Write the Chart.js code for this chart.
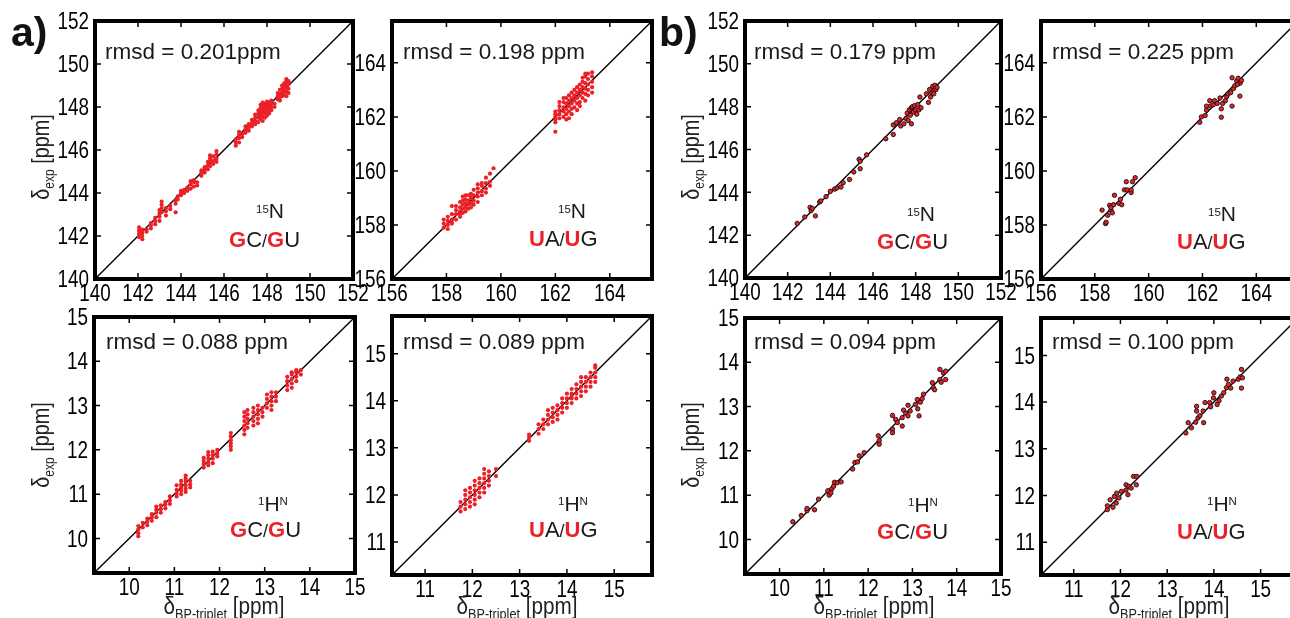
<!DOCTYPE html>
<html><head><meta charset="utf-8">
<script src="https://cdn.jsdelivr.net/npm/chart.js@4/dist/chart.umd.min.js"></script>
<style>
html,body{margin:0;padding:0;background:#fff;overflow:hidden;width:1290px;height:618px;}
#wrap{position:relative;width:1290px;height:618px;overflow:hidden;background:#fff;}
canvas{position:absolute;}
.t{position:absolute;white-space:nowrap;line-height:1;font-family:"Liberation Sans",Arial,sans-serif;color:#1a1a1a;}
.r{color:#ec2027;font-weight:bold;}
</style></head><body><div id="wrap"></div>
<script>
// ---------- axis ranges and tick labels ----------
const rangeN_GC = [140, 152];
const rangeN_UA = [156, 165.55];
const rangeH_GC = [9.22, 15];
const rangeH_UA = [10.3, 15.8];
const ticksN_GC = [140, 142, 144, 146, 148, 150, 152];
const ticksN_UA = [156, 158, 160, 162, 164];
const ticksH_GC = [10, 11, 12, 13, 14, 15];
const ticksH_UA = [11, 12, 13, 14, 15];

// ---------- panel a data: [x, [y values]] (vertical streaks) ----------
const aN_GC = [
 [142.05,[141.95,142.1,142.25,142.4]],[142.2,[141.85,142.0,142.15,142.3]],[142.4,[142.2,142.3]],
 [142.6,[142.35,142.5,142.6]],[142.8,[142.55,142.7,142.85]],[143.0,[142.7,142.9,143.05,143.2]],
 [143.1,[143.1,143.3,143.45,143.6]],[143.3,[142.95,143.15,143.3]],[143.5,[143.25,143.4]],
 [143.75,[143.1,143.5,143.65]],[143.85,[143.7,143.85]],[144.0,[143.9,144.0,144.1]],
 [144.15,[144.0,144.15]],[144.3,[144.1,144.25]],[144.45,[144.2,144.4,144.55]],
 [144.6,[144.3,144.5,144.6]],[144.75,[144.35,144.5]],[144.95,[144.8,144.95,145.05]],
 [145.1,[144.95,145.1,145.2]],[145.25,[145.1,145.3,145.45]],[145.35,[145.25,145.45,145.6,145.75]],
 [145.5,[145.35,145.5,145.7]],[145.65,[145.45,145.6,145.8,145.95]],
 [146.55,[146.2,146.35,146.5]],[146.7,[146.35,146.55,146.7,146.85]],[146.85,[146.6,146.75]],
 [147.0,[146.8,146.95,147.1]],[147.15,[146.9,147.05,147.2]],[147.3,[147.1,147.25,147.4]],
 [147.45,[147.2,147.35,147.5,147.65]],[147.6,[147.3,147.5,147.7,147.85]],
 [147.7,[147.45,147.6,147.8,147.95,148.1]],[147.8,[147.35,147.55,147.75,147.9,148.05,148.2]],
 [147.9,[147.5,147.7,147.85,148.0,148.15]],[148.0,[147.6,147.8,147.95,148.1,148.25]],
 [148.1,[147.7,147.9,148.05,148.2]],[148.2,[147.85,148.0,148.15,148.3]],[148.35,[148.0,148.15]],
 [148.5,[148.35,148.5,148.65]],[148.6,[148.3,148.45,148.6,148.8]],[148.7,[148.5,148.65,148.85,149.0]],
 [148.8,[148.55,148.75,148.95,149.1]],[148.9,[148.5,148.7,148.9,149.05,149.2,149.3]],
 [149.0,[148.65,148.85,149.05,149.2]]
];
const aN_UA = [
 [157.9,[157.9,158.05,158.2]],[158.05,[157.85,158.0,158.15,158.3]],[158.2,[158.05,158.1,158.2,158.4,158.7]],
 [158.35,[158.2,158.4,158.55,158.7]],[158.5,[158.3,158.4,158.5,158.65,158.85]],
 [158.6,[158.45,158.6,158.75,158.9,159.05]],[158.7,[158.5,158.65,158.8,158.95,159.1]],
 [158.8,[158.6,158.75,158.9,159.1]],[158.9,[158.65,158.8,159.0,159.15]],[159.0,[158.75,158.9,159.1,159.3]],
 [159.15,[158.85,159.05,159.2,159.35,159.5]],[159.3,[159.1,159.25,159.45,159.55]],
 [159.45,[159.2,159.35,159.55,159.75]],[159.6,[159.45,159.6,159.9]],[159.73,[160.1]],
 [162.0,[161.45,161.8,161.9,162.0,162.1,162.2]],[162.15,[161.95,162.1,162.25,162.4,162.55]],
 [162.3,[162.0,162.2,162.35,162.55,162.7]],[162.4,[161.9,162.1,162.3,162.5,162.7]],
 [162.5,[161.95,162.2,162.4,162.6,162.8]],[162.6,[162.1,162.3,162.5,162.7,162.9]],
 [162.7,[162.35,162.6,162.8,163.0]],[162.8,[162.25,162.5,162.7,162.9,163.1]],
 [162.9,[162.4,162.55,162.8,163.0,163.2]],[163.0,[162.7,162.9,163.1,163.3,163.45]],
 [163.1,[162.6,162.85,163.05,163.25,163.5,163.6]],[163.2,[162.8,163.0,163.2,163.4,163.6]],
 [163.35,[162.9,163.1,163.3,163.5,163.65]]
];
const aH_GC = [
 [10.2,[10.05,10.12,10.2,10.28]],[10.3,[10.25,10.35]],[10.4,[10.3,10.38,10.45]],
 [10.5,[10.4,10.48,10.55]],[10.6,[10.48,10.58,10.65,10.72]],[10.7,[10.58,10.66,10.75]],
 [10.8,[10.68,10.76,10.82]],[10.9,[10.78,10.86,10.95]],[11.05,[10.95,11.02,11.1,11.2]],
 [11.15,[11.0,11.08,11.15,11.22,11.3]],[11.25,[11.05,11.12,11.2,11.28,11.35,11.42]],
 [11.35,[11.15,11.22,11.3]],[11.65,[11.6,11.68,11.75,11.82]],[11.75,[11.65,11.72,11.8,11.88,11.95]],
 [11.85,[11.7,11.8,11.88,11.96]],[11.95,[11.85,11.92,12.0]],
 [12.25,[12.0,12.08,12.15,12.22,12.3,12.38]],
 [12.55,[12.35,12.45,12.55,12.65,12.75,12.85]],[12.62,[12.5,12.6,12.7,12.8,12.9]],
 [12.75,[12.55,12.65,12.75,12.85,12.95]],[12.85,[12.6,12.7,12.8,12.9,13.0]],[12.95,[12.75,12.85,12.95]],
 [13.05,[12.95,13.05,13.15,13.25]],[13.15,[12.9,13.0,13.1,13.2,13.3]],[13.25,[13.1,13.2,13.3]],
 [13.5,[13.35,13.45,13.55,13.65]],[13.6,[13.4,13.5,13.6,13.7,13.75]],[13.7,[13.55,13.65,13.75,13.8]],
 [13.8,[13.7,13.8]]
];
const aH_UA = [
 [11.75,[11.65,11.75,11.85]],[11.85,[11.7,11.8,11.9,12.0,12.1]],[11.95,[11.75,11.85,11.95,12.05,12.15]],
 [12.05,[11.8,11.9,12.0,12.1,12.2,12.3]],[12.15,[11.95,12.05,12.15,12.25,12.35]],
 [12.25,[12.05,12.15,12.25,12.35,12.45,12.55]],[12.35,[12.2,12.3,12.4,12.5]],[12.5,[12.4,12.55]],
 [13.2,[13.15,13.22,13.28]],
 [13.4,[13.3,13.4,13.5]],[13.5,[13.4,13.5,13.6]],[13.6,[13.5,13.6,13.7,13.8]],
 [13.7,[13.55,13.65,13.75,13.85]],[13.8,[13.6,13.7,13.8,13.9]],[13.9,[13.75,13.85,13.95,14.05]],
 [14.0,[13.85,13.95,14.05,14.15]],[14.1,[13.95,14.05,14.1,14.15,14.25]],[14.2,[14.05,14.15,14.25,14.35]],
 [14.3,[14.1,14.2,14.3,14.4,14.5]],[14.4,[14.2,14.3,14.4,14.5]],[14.5,[14.3,14.4,14.5,14.6]],
 [14.6,[14.4,14.5,14.6,14.7,14.75]]
];

// ---------- panel b data: [x, y] ----------
const bN_GC = [
 [142.45,142.55],[142.8,142.85],[143.05,143.3],[143.1,143.15],[143.15,143.25],[143.3,142.9],
 [143.5,143.55],[143.55,143.6],[143.8,143.8],[144.0,144.05],[144.2,144.15],[144.3,144.2],
 [144.5,144.25],[144.6,144.45],[144.9,144.6],[145.1,144.95],[145.35,145.55],[145.4,145.45],
 [145.4,145.1],[145.7,145.75],[146.6,146.5],[146.95,147.15],[146.95,146.7],[147.1,147.25],
 [147.25,147.4],[147.3,147.1],[147.45,147.2],[147.55,147.45],[147.6,147.7],[147.65,147.35],
 [147.7,147.85],[147.75,147.6],[147.8,147.95],[147.8,147.2],[147.85,148.0],[147.9,147.75],
 [147.95,148.05],[148.0,147.85],[148.05,147.65],[148.1,148.1],[148.15,147.85],[148.2,148.45],
 [148.25,147.95],[148.5,148.6],[148.6,148.2],[148.65,148.8],[148.7,148.45],[148.75,148.65],
 [148.8,148.95],[148.85,148.75],[148.9,149.0],[148.95,148.8],[148.85,148.6],[149.0,148.9]
];
const bN_UA = [
 [158.27,158.55],[158.4,158.05],[158.42,158.1],[158.48,158.36],[158.55,158.73],[158.6,158.55],
 [158.65,158.45],[158.73,159.1],[158.6,158.65],[158.7,158.75],[158.9,158.8],[158.95,158.95],
 [159.0,158.75],[159.1,159.3],[159.17,159.6],[159.2,159.3],[159.35,159.2],[159.35,159.3],
 [159.4,159.6],[159.5,159.75],
 [161.9,161.8],[161.96,162.0],[162.1,162.05],[162.15,162.25],[162.15,162.4],[162.27,162.6],
 [162.3,162.4],[162.4,162.45],[162.45,162.6],[162.55,162.5],[162.65,162.7],[162.7,162.3],
 [162.7,161.99],[162.75,162.5],[162.85,162.6],[162.9,162.75],[162.95,162.85],[163.1,162.4],
 [163.05,162.9],[163.15,163.05],[163.1,163.45],[163.2,163.15],[163.27,163.33],[163.33,163.43],
 [163.39,162.77],[163.4,163.25],[163.45,163.35],[163.3,163.2]
];
const bH_GC = [
 [10.3,10.4],[10.49,10.54],[10.62,10.65],[10.62,10.7],[10.79,10.67],[10.88,10.91],[11.09,11.1],
 [11.12,11.0],[11.18,11.14],[11.22,11.2],[11.24,11.29],[11.3,11.28],[11.39,11.3],[11.16,11.05],
 [11.65,11.59],[11.7,11.74],[11.76,11.75],[11.8,11.89],[11.91,11.96],
 [12.23,12.34],[12.25,12.23],[12.25,12.15],
 [12.55,12.49],[12.55,12.41],[12.55,12.8],[12.62,12.71],[12.66,12.64],[12.77,12.56],[12.77,12.75],
 [12.8,12.92],[12.85,12.85],[12.9,12.79],[12.9,13.03],[12.95,12.9],
 [13.07,13.05],[13.11,13.16],[13.15,12.79],[13.12,12.95],[13.18,13.1],[13.25,13.28],[13.22,13.18],
 [13.45,13.54],[13.47,13.43],[13.5,13.38],[13.62,13.84],[13.62,13.61],[13.65,13.55],[13.7,13.76],
 [13.75,13.8],[13.75,13.61]
];
const bH_UA = [
 [11.72,11.7],[11.72,11.78],[11.78,11.91],[11.84,11.75],[11.87,11.98],[11.91,11.84],[11.92,12.05],
 [11.97,11.95],[12.02,12.09],[12.12,12.23],[12.12,12.12],[12.16,12.02],[12.18,12.2],[12.23,12.16],
 [12.28,12.41],[12.34,12.23],[12.35,12.41],
 [13.4,13.34],[13.45,13.56],[13.52,13.45],[13.61,13.57],[13.63,13.91],[13.63,13.81],[13.66,13.66],
 [13.7,13.71],[13.77,13.81],[13.81,13.99],[13.78,13.56],[13.91,13.99],[13.93,13.9],[13.99,14.09],
 [14.0,14.2],[14.07,13.95],[14.11,14.03],[14.16,14.13],[14.21,14.2],[14.27,14.31],[14.28,14.49],
 [14.31,14.38],[14.36,14.3],[14.41,14.45],[14.52,14.49],[14.56,14.54],[14.59,14.7],[14.59,14.3],
 [14.61,14.52]
];

// ---------- labels ----------
const rmsdLabels = ["rmsd = 0.201ppm","rmsd = 0.198 ppm","rmsd = 0.088 ppm","rmsd = 0.089 ppm",
                    "rmsd = 0.179 ppm","rmsd = 0.225 ppm","rmsd = 0.094 ppm","rmsd = 0.100 ppm"];

// ---------- layout ----------
const RED = 'rgb(236,32,39)';
const PL = 50, PT = 14, PR = 26, PB = 32;
const panels = [
 {box:[95,21,353,279],  range:rangeN_GC, ticks:ticksN_GC, streaks:aN_GC, nuc:'N', pair:'GC', rm:[105,60], nl:[256,218], pl:[229,248]},
 {box:[392,21,652,279], range:rangeN_UA, ticks:ticksN_UA, streaks:aN_UA, nuc:'N', pair:'UA', rm:[403,60], nl:[558,218], pl:[529,247]},
 {box:[94,317,355,573], range:rangeH_GC, ticks:ticksH_GC, streaks:aH_GC, nuc:'H', pair:'GC', rm:[106,350], nl:[258,511], pl:[230,538]},
 {box:[392,316,652,575],range:rangeH_UA, ticks:ticksH_UA, streaks:aH_UA, nuc:'H', pair:'UA', rm:[403,350], nl:[558,511], pl:[529,538]},
 {box:[745,21,1001,278], range:rangeN_GC, ticks:ticksN_GC, pts:bN_GC, nuc:'N', pair:'GC', rm:[754,60], nl:[907,221], pl:[877,250]},
 {box:[1041,21,1298,279],range:rangeN_UA, ticks:ticksN_UA, pts:bN_UA, nuc:'N', pair:'UA', rm:[1052,60], nl:[1208,221], pl:[1177,250]},
 {box:[745,318,1001,574],range:rangeH_GC, ticks:ticksH_GC, pts:bH_GC, nuc:'H', pair:'GC', rm:[754,350], nl:[908,512], pl:[877,540]},
 {box:[1041,318,1298,575],range:rangeH_UA,ticks:ticksH_UA, pts:bH_UA, nuc:'H', pair:'UA', rm:[1052,350], nl:[1207,511], pl:[1177,540]}
];

const wrap = document.getElementById('wrap');

// box frame, inward tick marks and (horizontally condensed) tick labels from the scales
const framePlugin = {
  id: 'frame',
  afterDatasetsDraw(chart) {
    const {ctx, chartArea: {left, top, right, bottom}, scales: {x, y}} = chart;
    ctx.save();
    ctx.strokeStyle = '#000';
    ctx.lineWidth = 1.5;
    const tl = 6;
    ctx.beginPath();
    x.ticks.forEach(t => {
      const p = x.getPixelForValue(t.value);
      if (p > left + 3 && p < right - 3) { ctx.moveTo(p, bottom); ctx.lineTo(p, bottom - tl); ctx.moveTo(p, top); ctx.lineTo(p, top + tl); }
    });
    y.ticks.forEach(t => {
      const p = y.getPixelForValue(t.value);
      if (p > top + 3 && p < bottom - 3) { ctx.moveTo(left, p); ctx.lineTo(left + tl, p); ctx.moveTo(right, p); ctx.lineTo(right - tl, p); }
    });
    ctx.stroke();
    ctx.lineWidth = 4;
    ctx.strokeRect(left, top, right - left, bottom - top);

    ctx.fillStyle = '#000';
    ctx.font = '23px "Liberation Sans", Arial, sans-serif';
    ctx.textBaseline = 'alphabetic';
    const lab = t => (t.label !== undefined && t.label !== '' ? String(t.label) : String(t.value));
    x.ticks.forEach(t => {
      const p = x.getPixelForValue(t.value);
      ctx.save(); ctx.translate(p, bottom + 22); ctx.scale(0.82, 1);
      ctx.textAlign = 'center'; ctx.fillText(lab(t), 0, 0); ctx.restore();
    });
    y.ticks.forEach(t => {
      const p = y.getPixelForValue(t.value);
      ctx.save(); ctx.translate(left - 6, p + 8.2); ctx.scale(0.82, 1);
      ctx.textAlign = 'right'; ctx.fillText(lab(t), 0, 0); ctx.restore();
    });
    ctx.restore();
  }
};

function addText(html, left, baseline, size, extra) {
  const d = document.createElement('div');
  d.className = 't';
  d.style.left = left + 'px';
  d.style.top = (baseline - 0.8465 * size) + 'px';
  d.style.fontSize = size + 'px';
  if (extra) Object.assign(d.style, extra);
  d.innerHTML = html;
  wrap.appendChild(d);
  return d;
}

panels.forEach((p, i) => {
  const [L, T, R, B] = p.box;
  const W = R - L, H = B - T;
  const cw = W + PL + PR, ch = H + PT + PB;
  const cv = document.createElement('canvas');
  cv.width = cw; cv.height = ch;
  cv.style.left = (L - PL) + 'px'; cv.style.top = (T - PT) + 'px';
  cv.style.width = cw + 'px'; cv.style.height = ch + 'px';
  wrap.appendChild(cv);
  const isA = !!p.streaks;
  const pts = isA ? p.streaks.flatMap(([x, ys]) => ys.map(y => ({x, y}))) : p.pts.map(([x, y]) => ({x, y}));
  const [mn, mx] = p.range;
  const axis = (isX) => ({
    type: 'linear', min: mn, max: mx,
    afterBuildTicks: s => { s.ticks = p.ticks.map(v => ({value: v})); },
    afterFit: s => { if (isX) s.height = PB; else s.width = PL; },
    grid: {display: false}, border: {display: false},
    ticks: {display: false, autoSkip: false, callback: v => String(v)}
  });
  new Chart(cv, {
    type: 'scatter',
    data: {datasets: [
      {data: pts, pointRadius: isA ? 2.1 : 2.2, pointBackgroundColor: RED,
       pointBorderColor: isA ? RED : '#111', pointBorderWidth: isA ? 0 : 0.9, showLine: false},
      {data: [{x: mn, y: mn}, {x: mx, y: mx}], showLine: true, borderColor: '#000', borderWidth: 1.4, pointRadius: 0}
    ]},
    options: {
      responsive: false, animation: false, events: [],
      layout: {padding: {top: PT, right: PR, left: 0, bottom: 0}},
      plugins: {legend: {display: false}, tooltip: {enabled: false}},
      scales: {x: axis(true), y: axis(false)}
    },
    plugins: [framePlugin]
  });

  // annotations
  addText(rmsdLabels[i], p.rm[0], p.rm[1], 22.5);
  if (p.nuc === 'N') {
    addText('<span style="font-size:11.5px;position:relative;top:-5px">15</span>N', p.nl[0], p.nl[1], 21);
  } else {
    addText('<span style="font-size:11.5px;position:relative;top:-6px">1</span>H<span style="font-size:11.5px;position:relative;top:-6px">N</span>', p.nl[0], p.nl[1], 21);
  }
  if (p.pair === 'GC') addText('<span class="r">G</span>C<span style="font-size:18px">/</span><span class="r">G</span>U', p.pl[0], p.pl[1], 22);
  else addText('<span class="r">U</span>A<span style="font-size:18px">/</span><span class="r">U</span>G', p.pl[0], p.pl[1], 22);
});

// axis titles
function yTitle(cx, cy) {
  const d = document.createElement('div');
  d.className = 't';
  Object.assign(d.style, {color: '#222', fontSize: '23px', left: cx + 'px', top: cy + 'px', transform: 'translate(-50%,-50%) rotate(-90deg) scaleX(0.86)'});
  d.innerHTML = 'δ<span style="font-size:14px;position:relative;top:5px">exp</span> [ppm]';
  wrap.appendChild(d);
}
function xTitle(cx, baseline) {
  const d = document.createElement('div');
  d.className = 't';
  Object.assign(d.style, {color: '#222', fontSize: '23px', left: cx + 'px', top: (baseline - 0.8465 * 23) + 'px', transform: 'translateX(-50%) scaleX(0.9)'});
  d.innerHTML = 'δ<span style="font-size:14px;position:relative;top:5px">BP-triplet</span> [ppm]';
  wrap.appendChild(d);
}
yTitle(41, 157); yTitle(41, 445); yTitle(691, 157); yTitle(691, 445);
xTitle(224, 614); xTitle(517, 614); xTitle(874, 614); xTitle(1169, 614);

// panel letters
addText('a)', 11, 47, 41, {fontWeight: 'bold', color: '#111'});
addText('b)', 659, 47, 41, {fontWeight: 'bold', color: '#111'});
</script></body></html>
